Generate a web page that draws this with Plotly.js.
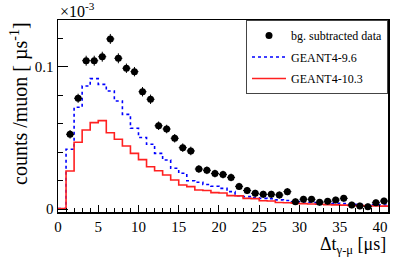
<!DOCTYPE html>
<html>
<head>
<meta charset="utf-8">
<script src="https://cdn.plot.ly/plotly-3.0.1.min.js"></script>
<style>html,body{margin:0;padding:0;background:#fff;}#chart{width:399px;height:260px;}</style>
</head>
<body>
<div id="chart"></div>
<script>
// Bin edges (µs) for the simulated histograms
const binEdges = [0,1,2,3,4,5,6,7,8,9,10,11,12,13,14,15,16,17,18,19,20,21,22,23,24,25,26,27,28,29,30,31,32,33,34,35,36,37,38,39,40,41];
// GEANT4-9.6 (per 1e-3 /µs), one value per bin
const geant96 = [0.0003,0.042,0.0715,0.0864,0.0916,0.0876,0.0829,0.0759,0.0665,0.0567,0.0502,0.0455,0.0391,0.0344,0.0286,0.0251,0.0199,0.0188,0.0172,0.0160,0.0145,0.0122,0.0093,0.0087,0.0079,0.0075,0.0072,0.0064,0.0060,0.0053,0.0050,0.0046,0.0043,0.0041,0.0040,0.0038,0.0033,0.0031,0.0030,0.0029,0.0028];
// GEANT4-10.3
const geant103 = [0.0003,0.0267,0.0469,0.0555,0.0607,0.0621,0.0536,0.0490,0.0443,0.0391,0.0347,0.0297,0.0269,0.0239,0.0204,0.0169,0.0157,0.0134,0.0130,0.0115,0.0112,0.0094,0.0092,0.0075,0.0073,0.0058,0.0056,0.0046,0.0044,0.0040,0.0038,0.0035,0.0033,0.0031,0.0029,0.0027,0.0025,0.0024,0.0022,0.0021,0.0020];
// Background-subtracted data (bin centres)
const dataX = [1.5,2.5,3.5,4.5,5.5,6.5,7.5,8.5,9.5,10.5,11.5,12.5,13.5,14.5,15.5,16.5,17.5,18.5,19.5,20.5,21.5,22.5,23.5,24.5,25.5,26.5,27.5,28.5,29.5,30.5,31.5,32.5,33.5,34.5,35.5,36.5,37.5,38.5,39.5,40.5];
const dataY = [0.0525,0.0778,0.1042,0.1042,0.1070,0.1195,0.1059,0.0989,0.0965,0.0824,0.0771,0.0585,0.0562,0.0497,0.0431,0.0408,0.0281,0.0272,0.0249,0.0242,0.0222,0.0159,0.0130,0.0110,0.0103,0.0103,0.0098,0.0122,0.0051,0.0069,0.0068,0.0047,0.0054,0.0063,0.0075,0.0028,0.0021,0.0016,0.0044,0.0056];
const dataErr = [0.0030,0.0032,0.0035,0.0035,0.0035,0.0035,0.0035,0.0033,0.0033,0.0033,0.0033,0.0030,0.0030,0.0030,0.0030,0.0030,0.0027,0.0027,0.0027,0.0027,0.0027,0.0025,0.0025,0.0025,0.0025,0.0025,0.0025,0.0025,0.0023,0.0023,0.0023,0.0023,0.0023,0.0023,0.0023,0.0023,0.0023,0.0023,0.0023,0.0023];
const binHalfWidth = 0.5;
const labels = ['bg. subtracted data','GEANT4-9.6','GEANT4-10.3'];

function stepY(v){ return v.concat([v[v.length-1]]); }

const serif = 'Liberation Serif, Times New Roman, serif';
const traces = [
  {x: binEdges, y: stepY(geant96), type:'scatter', mode:'lines', name: labels[1], legendrank: 2, legendgroup:'g2',
   line:{shape:'hv', color:'#0000ff', width:1.6, dash:'dot'}},
  {x: binEdges, y: stepY(geant103), type:'scatter', mode:'lines', name: labels[2], legendrank: 3, legendgroup:'g3',
   line:{shape:'hv', color:'#ff2020', width:1.6}},
  {x: dataX, y: dataY, type:'scatter', mode:'markers', name: labels[0], legendrank: 1, legendgroup:'g1',
   marker:{color:'#000', size:7, symbol:'circle'},
   error_y:{type:'data', array: dataErr, visible:true, color:'#000', thickness:1, width:0},
   error_x:{type:'constant', value: binHalfWidth, visible:true, color:'#000', thickness:1, width:0}}
];

const layout = {
  width:399, height:260,
  margin:{l:58, r:11, t:20, b:48},
  paper_bgcolor:'#fff', plot_bgcolor:'#fff',
  font:{family: serif, size:15, color:'#000'},
  showlegend:true,
  legend:{x:1, xanchor:'right', y:1, yanchor:'top', bgcolor:'#fff', bordercolor:'#444', borderwidth:1,
          itemwidth:34, tracegroupgap:2.5, traceorder:'grouped',
          font:{family: serif, size:12, color:'#000'}},
  xaxis:{range:[0,41], showline:true, mirror:true, linecolor:'#000', linewidth:1.5,
         showgrid:false, zeroline:false, ticks:'inside', ticklen:7, tickwidth:1, tickcolor:'#000',
         tick0:0, dtick:5, tickfont:{family:serif, size:15},
         minor:{dtick:1, ticks:'inside', ticklen:4, tickwidth:1, tickcolor:'#000', showgrid:false}},
  yaxis:{range:[-0.0021,0.1328], showline:true, mirror:true, linecolor:'#000', linewidth:1.5,
         showgrid:false, zeroline:false, ticks:'inside', ticklen:10, tickwidth:1, tickcolor:'#000',
         tick0:0, dtick:0.1, tickfont:{family:serif, size:15},
         minor:{dtick:0.02, ticks:'inside', ticklen:5, tickwidth:1, tickcolor:'#000', showgrid:false}},
  annotations:[
    {text:'counts /muon [ µs<sup>-1</sup>]', xref:'paper', yref:'paper', x:-0.1167, y:1.0,
     xanchor:'center', yanchor:'top', textangle:-90, showarrow:false, font:{family:serif, size:20, color:'#000'}},
    {text:'Δt<sub>γ-μ</sub> [μs]', xref:'paper', yref:'paper', x:1.0, y:-0.172,
     xanchor:'right', yanchor:'middle', showarrow:false, font:{family:serif, size:18, color:'#000'}},
    {text:'×10<sup>-3</sup>', xref:'paper', yref:'paper', x:0, y:1.052,
     xanchor:'left', yanchor:'middle', showarrow:false, font:{family:serif, size:16, color:'#000'}}
  ]
};

Plotly.newPlot('chart', traces, layout, {staticPlot:true, displayModeBar:false});
</script>
</body>
</html>
